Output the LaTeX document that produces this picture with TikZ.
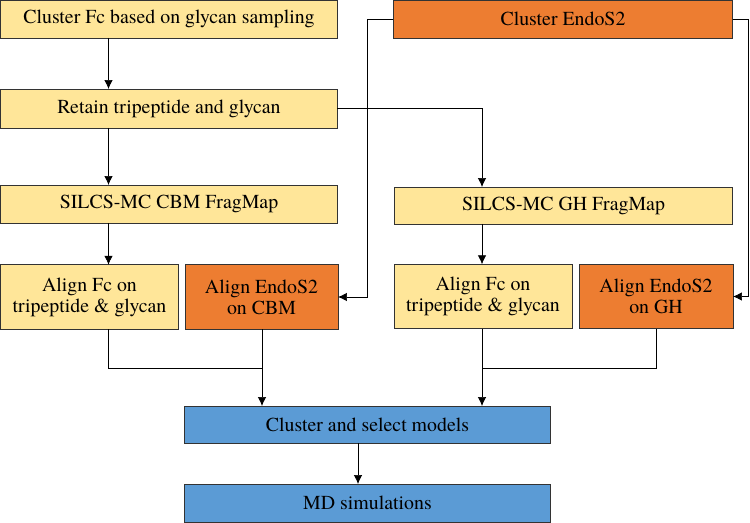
\documentclass[tikz,border=0pt]{standalone}
\usepackage{fontspec}
\IfFontExistsTF{texgyretermes-regular.otf}
	{\setmainfont{texgyretermes}[Extension=.otf,UprightFont=*-regular,BoldFont=*-bold]}
	{\setmainfont{Liberation Serif}}
\usetikzlibrary{arrows.meta,positioning,calc}
\definecolor{fcyellow}{HTML}{FFE699}
\definecolor{endoorange}{HTML}{ED7D31}
\definecolor{mdblue}{HTML}{5B9BD5}
\tikzset{
	-{Latex[length=1.8mm,width=1.7mm]},line width=0.95pt,
	box/.style ={rectangle, draw=black!80, line width=0.55pt, inner sep=0pt, outer sep=0pt, align=center,
		font=\rmfamily\fontsize{11.3}{12}\selectfont},
	fcbox/.style = {box, fill=fcyellow},
	endobox/.style = {box, fill=endoorange},
	mdbox/.style = {box, fill=mdblue},
	wide/.style = {minimum width=6.74cm, minimum height=0.76cm},
	half/.style = {minimum height=1.29cm}
}

\begin{document}
\begin{tikzpicture}[x=0.02cm,y=-0.02cm]
	\useasboundingbox (0,0) rectangle (750,523);
	\node[fcbox,wide] (fc) at (169,19) {Cluster Fc based on glycan sampling};
	\node[endobox,minimum width=6.8cm,minimum height=0.76cm] (endo) at (563,19) {Cluster EndoS2};
	\node[fcbox,wide,minimum height=0.78cm] (retain) at (169,108.5) {Retain tripeptide and glycan};
	\node[fcbox,wide] (cbm) at (169,204) {SILCS-MC CBM FragMap};
	\node[fcbox,minimum width=6.78cm,minimum height=0.74cm] (gh) at (563.5,205.5) {SILCS-MC GH FragMap};
	\node[fcbox,half,minimum width=3.56cm] (alignl) at (89.5,297) {Align Fc on\\tripeptide \& glycan};
	\node[endobox,half,minimum width=3.06cm] (endocbm) at (261.5,297) {Align EndoS2\\on CBM};
	\node[fcbox,half,minimum width=3.56cm] (alignr) at (483,296.5) {Align Fc on\\tripeptide \& glycan};
	\node[endobox,half,minimum width=3.08cm] (endogh) at (656,296.5) {Align EndoS2\\on GH};
	\node[mdbox,minimum width=7.34cm,minimum height=0.74cm] (select) at (367.5,424.5) {Cluster and select models};
	\node[mdbox,minimum width=7.34cm,minimum height=0.76cm] (md) at (367.5,503) {MD simulations};

	% routing points
	\coordinate (lx) at (108.5,0);
	\coordinate (rx) at (482,0);
	\coordinate (bl) at (367,0);
	\coordinate (br) at (748,0);
	\coordinate (ml) at (262,368);
	\coordinate (mr) at (482,368);
	\coordinate (mx) at (358,0);

	\draw (fc.south -| lx) -- (retain.north -| lx);
	\draw (retain.south -| lx) -- (cbm.north -| lx);
	\draw (cbm.south -| lx) -- (alignl.north -| lx);
	\draw (retain.east) -| (gh.north -| rx);
	\draw (gh.south -| rx) -- (alignr.north -| rx);
	\draw (endo.west) -| (bl |- endocbm.east) -- (endocbm.east);
	\draw (endo.east) -| (br |- endogh.east) -- (endogh.east);
	\draw[-] (alignl.south -| lx) |- (ml) -- (ml |- endocbm.south);
	\draw[-] (alignr.south -| mr) -- (mr) -| (endogh.south);
	\draw (ml) -- (select.north -| ml);
	\draw (mr) -- (select.north -| mr);
	\draw (select.south -| mx) -- (md.north -| mx);
\end{tikzpicture}
\end{document}
